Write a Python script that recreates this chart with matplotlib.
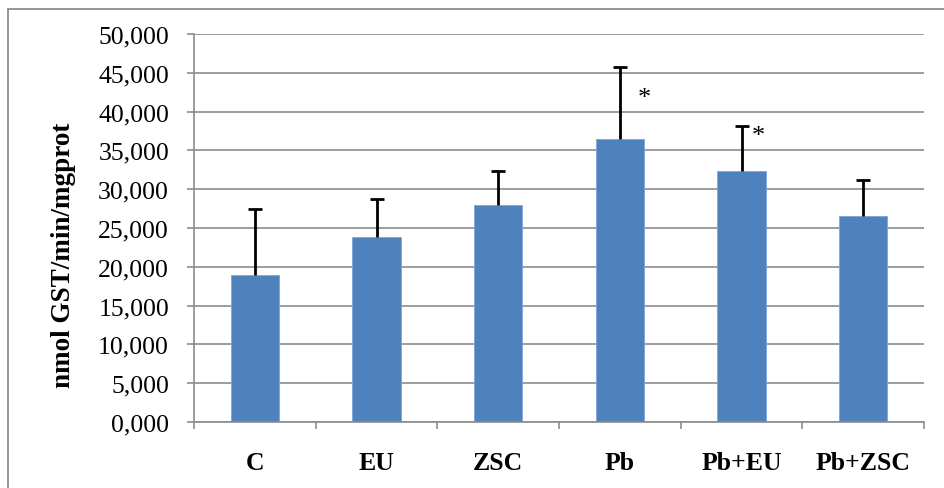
import matplotlib
matplotlib.use('Agg')
import matplotlib.pyplot as plt
from matplotlib.patches import Rectangle
import numpy as np

groups = ['C', 'EU', 'ZSC', 'Pb', 'Pb+EU', 'Pb+ZSC']
gst = [18.9, 23.9, 28.0, 36.5, 32.4, 26.6]
sd = [8.5, 4.9, 4.3, 9.2, 5.7, 4.6]

# significance marks: (group index, x offset, y)
stars = [(3, 0.2, 41.7), (4, 0.14, 36.9)]

plt.rcParams['font.family'] = ['Liberation Serif', 'DejaVu Serif']

fig = plt.figure(figsize=(9.44, 4.89), dpi=100)
ax = fig.add_axes([194 / 944, 66 / 489, 730 / 944, 388 / 489])

# frame around the whole chart
fig.patches.append(Rectangle((8 / 944, -0.05), 1.0, 1.05 - 10 / 489,
                             transform=fig.transFigure, fill=False,
                             edgecolor='#8c8c8c', linewidth=1.3))

x = np.arange(len(groups))
ax.bar(x, gst, width=0.395, color='#4F81BD', edgecolor='#7ea4d6', linewidth=0.6, zorder=2)
eb = ax.errorbar(x, gst, yerr=[np.zeros(len(sd)), sd], fmt='none', ecolor='black',
                 elinewidth=2, capsize=5, capthick=2, zorder=3)
eb[1][0].set_visible(False)  # no cap at the bar top

for i, dx, y in stars:
    ax.text(x[i] + dx, y, '*', ha='center', va='center', fontsize=19)

ax.set_xlim(-0.5, len(groups) - 0.5)
ax.set_ylim(0, 50)
yt = np.arange(0, 51, 5)
ax.set_yticks(yt)
ax.set_yticklabels(['{:.3f}'.format(v).replace('.', ',') for v in yt], fontsize=18.5)
ax.yaxis.grid(True, color='#8c8c8c', linewidth=1.2, zorder=0)
ax.set_axisbelow(True)

# category labels between boundary ticks
ax.set_xticks(np.arange(-0.5, len(groups), 1.0))
ax.set_xticklabels([])
ax.set_xticks(x, minor=True)
ax.set_xticklabels(groups, minor=True, fontsize=18.5, fontweight='bold')
ax.tick_params(axis='x', which='minor', length=0, pad=21)
ax.tick_params(axis='x', which='major', length=5, color='#8c8c8c', width=1.2)
ax.tick_params(axis='y', length=5, color='#8c8c8c', width=1.2, pad=13)

for side in ['top', 'right']:
    ax.spines[side].set_visible(False)
for side in ['left', 'bottom']:
    ax.spines[side].set_color('#8c8c8c')
    ax.spines[side].set_linewidth(1.2)

ax.set_ylabel('nmol GST/min/mgprot', fontsize=19.5, fontweight='bold',
              ha='center', va='center')
ax.yaxis.set_label_coords(-0.179, 0.433)

fig.savefig('out.png', dpi=100)
